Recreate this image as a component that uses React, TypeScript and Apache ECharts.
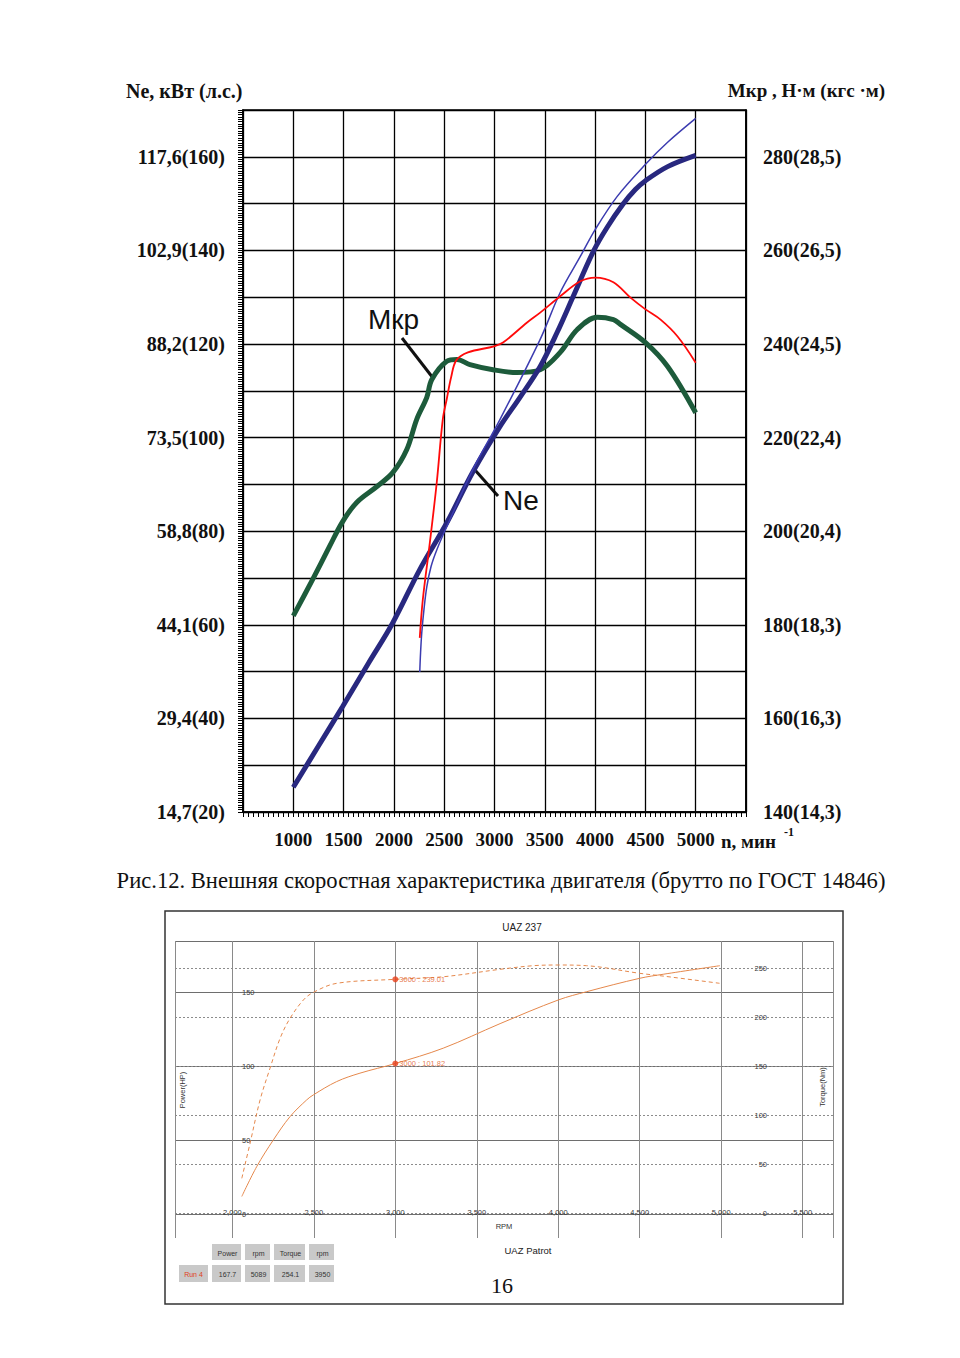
import React, { useEffect, useRef } from 'react';
import * as echarts from 'echarts';

// ---------- Top chart (external speed characteristic) ----------
const rpmTicksTop = [1000, 1500, 2000, 2500, 3000, 3500, 4000, 4500, 5000];
const powerHpTicks = [20, 40, 60, 80, 100, 120, 140, 160];
const powerKwLabels = ['14,7', '29,4', '44,1', '58,8', '73,5', '88,2', '102,9', '117,6'];
const torqueNmTicks = [140, 160, 180, 200, 220, 240, 260, 280];
const torqueKgfLabels = ['14,3', '16,3', '18,3', '20,4', '22,4', '24,5', '26,5', '28,5'];

// Ne (hp) – thick blue
const neThick: number[][] = [
  [1000, 25.3], [1250, 34.1], [1489, 42.5], [1750, 51.9], [1988, 60.4], [2257, 71.8],
  [2526, 81.8], [2786, 92.7], [3055, 102.4], [3250, 108.5], [3454, 115.2], [3623, 122.5],
  [3783, 130.2], [3983, 139.8], [4122, 145.0], [4282, 150.0], [4400, 153.0], [4501, 154.9],
  [4721, 157.9], [5000, 160.3],
];
// Ne (hp) – thin blue (dyno)
const neThin: number[][] = [
  [2257, 49.9], [2265, 54.0], [2277, 58.3], [2300, 63.5], [2327, 68.1], [2370, 72.5],
  [2426, 76.0], [2526, 81.0], [2786, 93.2], [3055, 103.9], [3454, 121.0], [3653, 131.0],
  [3853, 138.7], [4002, 144.5], [4222, 151.6], [4501, 158.4], [4721, 163.1], [5000, 168.2],
];
// Mkr (N·m) – red (dyno)
const mkrRed: number[][] = [
  [2257, 177.2], [2287, 185.3], [2357, 197.5], [2426, 210.4], [2486, 223.9], [2526, 228.3],
  [2570, 233.0], [2620, 236.5], [2736, 238.2], [2995, 239.5], [3085, 240.3], [3324, 244.6],
  [3454, 246.7], [3653, 250.2], [3853, 253.4], [4002, 254.2], [4182, 253.2], [4352, 249.9],
  [4501, 247.4], [4651, 245.2], [4820, 241.6], [5000, 236.0],
];
// Mkr (N·m) – thick green
const mkrGreen: number[][] = [
  [1000, 181.9], [1190, 189.6], [1359, 196.7], [1489, 202.0], [1628, 206.1], [1828, 209.5],
  [1988, 212.5], [2127, 217.4], [2227, 223.9], [2327, 228.6], [2377, 232.4], [2526, 236.3],
  [2626, 236.7], [2756, 235.6], [2985, 234.5], [3224, 233.9], [3454, 234.5], [3653, 238.2],
  [3823, 243.1], [4022, 245.7], [4182, 245.2], [4252, 244.2], [4501, 240.3], [4721, 235.2],
  [5000, 225.3],
];

// ---------- Bottom chart (UAZ 237 dyno) ----------
const dynoPower: number[][] = [
  [2058, 11.9], [2150, 32.2], [2252, 50.2], [2354, 65.9], [2456, 77.2], [2497, 80.6],
  [2640, 89.6], [2783, 95.3], [3000, 101.82], [3294, 112.2], [3643, 128.8], [4000, 144.8],
  [4174, 150.4], [4501, 159.5], [4644, 162.2], [4992, 168.0],
];
const dynoTorque: number[][] = [
  [2058, 35.9], [2109, 72.0], [2170, 115.8], [2231, 148.2], [2293, 178.8], [2354, 199.2],
  [2436, 217.9], [2497, 225.7], [2640, 234.9], [3000, 239.01], [3294, 241.6], [3643, 249.2],
  [3847, 252.9], [4000, 253.6], [4174, 252.9], [4501, 245.1], [4644, 242.3], [4992, 234.9],
];
const markerPower = [3000, 101.82];
const markerTorque = [3000, 239.01];
const tableHeaders = ['Power', 'rpm', 'Torque', 'rpm'];
const runLabel = 'Run 4';
const runValues = ['167.7', '5089', '254.1', '3950'];

const SERIF = '"Liberation Serif", "Times New Roman", serif';
const SANS = '"Liberation Sans", Arial, sans-serif';
const ORANGE = '#e5884c';

function near(v: number, arr: number[]) {
  const r = Math.round(v * 1000) / 1000;
  return arr.indexOf(r);
}

function buildOption() {
  const tableCols = [
    { x: 212, w: 29 },
    { x: 245, w: 25 },
    { x: 274, w: 31 },
    { x: 309, w: 25 },
  ];
  const graphics: any[] = [];
  // top chart titles
  graphics.push(
    { type: 'text', x: 126, y: 91, style: { text: 'Ne, кВт (л.с.)', font: `bold 20px ${SERIF}`, fill: '#111', align: 'left', verticalAlign: 'middle' } },
    { type: 'text', x: 885, y: 90, style: { text: 'Мкр , Н·м (кгс ·м)', font: `bold 19px ${SERIF}`, fill: '#111', align: 'right', verticalAlign: 'middle' } },
    { type: 'text', x: 721, y: 841, style: { text: 'n, мин', font: `bold 19px ${SERIF}`, fill: '#111', align: 'left', verticalAlign: 'middle' } },
    { type: 'text', x: 784, y: 832, style: { text: '-1', font: `bold 12px ${SERIF}`, fill: '#111', align: 'left', verticalAlign: 'middle' } },
    { type: 'text', x: 501, y: 880, style: { text: 'Рис.12. Внешняя скоростная характеристика двигателя (брутто по ГОСТ 14846)', font: `22.6px ${SERIF}`, fill: '#111', align: 'center', verticalAlign: 'middle' } },
    { type: 'text', x: 368, y: 319, style: { text: 'Мкр', font: `28px ${SANS}`, fill: '#111', align: 'left', verticalAlign: 'middle' } },
    { type: 'line', shape: { x1: 402, y1: 338, x2: 433, y2: 378 }, style: { stroke: '#111', lineWidth: 3 } },
    { type: 'text', x: 503, y: 500, style: { text: 'Ne', font: `28px ${SANS}`, fill: '#111', align: 'left', verticalAlign: 'middle' } },
    { type: 'line', shape: { x1: 475, y1: 470, x2: 498, y2: 496 }, style: { stroke: '#111', lineWidth: 3 } },
  );
  // bottom chart frame & texts
  graphics.push(
    { type: 'rect', shape: { x: 165, y: 911, width: 678, height: 393 }, style: { fill: 'none', stroke: '#333', lineWidth: 1.5 } },
    { type: 'text', x: 522, y: 927, style: { text: 'UAZ 237', font: `10px ${SANS}`, fill: '#222', align: 'center', verticalAlign: 'middle' } },
    { type: 'text', x: 504, y: 1226, style: { text: 'RPM', font: `7.5px ${SANS}`, fill: '#333', align: 'center', verticalAlign: 'middle' } },
    { type: 'text', x: 182, y: 1090, rotation: Math.PI / 2, style: { text: 'Power(HP)', font: `7.5px ${SANS}`, fill: '#333', align: 'center', verticalAlign: 'middle' } },
    { type: 'text', x: 822, y: 1087, rotation: Math.PI / 2, style: { text: 'Torque(Nm)', font: `7.5px ${SANS}`, fill: '#333', align: 'center', verticalAlign: 'middle' } },
    { type: 'text', x: 528, y: 1250, style: { text: 'UAZ Patrot', font: `9.5px ${SANS}`, fill: '#222', align: 'center', verticalAlign: 'middle' } },
    { type: 'text', x: 502, y: 1285, style: { text: '16', font: `22px ${SERIF}`, fill: '#111', align: 'center', verticalAlign: 'middle' } },
    { type: 'rect', shape: { x: 179, y: 1265, width: 29, height: 17 }, style: { fill: '#c9c9c9' } },
    { type: 'text', x: 193.5, y: 1274, style: { text: runLabel, font: `7px ${SANS}`, fill: '#e0401a', align: 'center', verticalAlign: 'middle' } },
  );
  tableCols.forEach((c, i) => {
    graphics.push(
      { type: 'rect', shape: { x: c.x, y: 1244, width: c.w, height: 16 }, style: { fill: '#c9c9c9' } },
      { type: 'text', x: c.x + c.w / 2 + 1, y: 1253, style: { text: tableHeaders[i], font: `7px ${SANS}`, fill: '#333', align: 'center', verticalAlign: 'middle' } },
      { type: 'rect', shape: { x: c.x, y: 1265, width: c.w, height: 17 }, style: { fill: '#c9c9c9' } },
      { type: 'text', x: c.x + c.w / 2 + 1, y: 1274, style: { text: runValues[i], font: `7px ${SANS}`, fill: '#333', align: 'center', verticalAlign: 'middle' } },
    );
  });

  const smallLabel = { fontFamily: SANS, fontSize: 7.5, color: '#3a3a3a' };

  return {
    animation: false,
    backgroundColor: '#fff',
    grid: [
      { left: 243, top: 110, width: 503, height: 702, show: true, borderColor: '#000', borderWidth: 1.6, backgroundColor: '#fff', containLabel: false, outerBoundsMode: 'none' },
      { left: 175, top: 941, width: 658, height: 297, show: false, containLabel: false, outerBoundsMode: 'none' },
    ],
    xAxis: [
      {
        type: 'value', gridIndex: 0, min: 500, max: 5500, interval: 500,
        axisLine: { show: true, lineStyle: { color: '#000', width: 1.6 } },
        axisTick: { show: true, length: 5, lineStyle: { color: '#000', width: 1 } },
        minorTick: { show: true, splitNumber: 10, length: 5, lineStyle: { color: '#000', width: 1 } },
        splitLine: { show: true, lineStyle: { color: '#000', width: 1.3 } },
        axisLabel: {
          show: true, margin: 18, hideOverlap: false, showMinLabel: true, showMaxLabel: true,
          fontFamily: SERIF, fontWeight: 'bold', fontSize: 19, color: '#111',
          formatter: (v: number) => (near(v, rpmTicksTop) >= 0 ? String(Math.round(v)) : ''),
        },
      },
      {
        type: 'value', gridIndex: 1, min: 1648, max: 5686, minInterval: 500, maxInterval: 500,
        axisLine: { show: false }, axisTick: { show: false },
        splitLine: { show: true, lineStyle: { color: '#8a8a8a', width: 1 } },
        axisLabel: {
          show: true, inside: true, margin: 26, verticalAlign: 'middle', hideOverlap: false, ...smallLabel,
          formatter: (v: number) => {
            const r = Math.round(v);
            return Math.abs(v - r) < 1e-6 && r % 500 === 0 ? r.toLocaleString('en-US') : '';
          },
        },
      },
    ],
    yAxis: [
      {
        type: 'value', gridIndex: 0, position: 'left', min: 20, max: 170, interval: 10,
        axisLine: { show: true, lineStyle: { color: '#000', width: 1.6 } },
        axisTick: { show: true, length: 5, lineStyle: { color: '#000', width: 1 } },
        minorTick: { show: true, splitNumber: 20, length: 5, lineStyle: { color: '#000', width: 1 } },
        splitLine: { show: true, lineStyle: { color: '#000', width: 1.3 } },
        axisLabel: {
          show: true, margin: 18, hideOverlap: false, showMinLabel: true, showMaxLabel: true,
          fontFamily: SERIF, fontWeight: 'bold', fontSize: 20, color: '#111',
          formatter: (v: number) => {
            const i = near(v, powerHpTicks);
            return i >= 0 ? `${powerKwLabels[i]}(${powerHpTicks[i]})` : '';
          },
        },
      },
      {
        type: 'value', gridIndex: 0, position: 'right', min: 140, max: 290, interval: 10,
        axisLine: { show: true, lineStyle: { color: '#000', width: 1.6 } },
        axisTick: { show: false }, splitLine: { show: false },
        axisLabel: {
          show: true, margin: 17, hideOverlap: false, showMinLabel: true, showMaxLabel: true,
          fontFamily: SERIF, fontWeight: 'bold', fontSize: 20, color: '#111',
          formatter: (v: number) => {
            const i = near(v, torqueNmTicks);
            return i >= 0 ? `${torqueNmTicks[i]}(${torqueKgfLabels[i]})` : '';
          },
        },
      },
      {
        type: 'value', gridIndex: 1, position: 'left', min: -16.2, max: 184.7, minInterval: 50, maxInterval: 50,
        axisLine: { show: false }, axisTick: { show: false },
        splitLine: { show: true, showMinLine: false, showMaxLine: true, lineStyle: { color: '#6e6e6e', width: 1 } },
        axisLabel: {
          show: true, inside: true, margin: 67, hideOverlap: false, ...smallLabel,
          formatter: (v: number) => {
            const r = Math.round(v);
            return Math.abs(v - r) < 1e-6 && r % 50 === 0 ? String(r) : '';
          },
        },
      },
      {
        type: 'value', gridIndex: 1, position: 'right', min: -25, max: 278.1, minInterval: 50, maxInterval: 50,
        axisLine: { show: false }, axisTick: { show: false },
        splitLine: { show: true, showMinLine: false, showMaxLine: false, lineStyle: { color: '#8c8c8c', width: 1, type: [2, 2] } },
        axisLabel: {
          show: true, inside: true, margin: 66, hideOverlap: false, ...smallLabel,
          formatter: (v: number) => {
            const r = Math.round(v);
            return Math.abs(v - r) < 1e-6 && r % 50 === 0 ? String(r) : '';
          },
        },
      },
    ],
    series: [
      { type: 'line', name: 'Mkr', xAxisIndex: 0, yAxisIndex: 1, data: mkrGreen, smooth: 0.35, showSymbol: false, lineStyle: { color: '#1d5b3b', width: 5 }, z: 3 },
      { type: 'line', name: 'Ne', xAxisIndex: 0, yAxisIndex: 0, data: neThick, smooth: 0.35, showSymbol: false, lineStyle: { color: '#28287f', width: 5 }, z: 4 },
      { type: 'line', name: 'Ne dyno', xAxisIndex: 0, yAxisIndex: 0, data: neThin, smooth: 0.35, showSymbol: false, lineStyle: { color: '#3c3cb0', width: 1.5 }, z: 5 },
      { type: 'line', name: 'Mkr dyno', xAxisIndex: 0, yAxisIndex: 1, data: mkrRed, smooth: 0.35, showSymbol: false, lineStyle: { color: '#ff0a0a', width: 1.8 }, z: 5 },
      { type: 'line', name: 'Power', xAxisIndex: 1, yAxisIndex: 2, data: dynoPower, smooth: 0.35, showSymbol: false, lineStyle: { color: ORANGE, width: 1 } },
      { type: 'line', name: 'Torque', xAxisIndex: 1, yAxisIndex: 3, data: dynoTorque, smooth: 0.35, showSymbol: false, lineStyle: { color: ORANGE, width: 1, type: [4, 3] } },
      {
        type: 'scatter', xAxisIndex: 1, yAxisIndex: 2, data: [markerPower], symbolSize: 6, itemStyle: { color: '#e8401a' },
        label: { show: true, position: 'right', distance: 1, fontFamily: SANS, fontSize: 7.5, color: '#e0581a', formatter: () => `${markerPower[0]} : ${markerPower[1].toFixed(2)}` }, z: 6,
      },
      {
        type: 'scatter', xAxisIndex: 1, yAxisIndex: 3, data: [markerTorque], symbolSize: 6, itemStyle: { color: '#e8401a' },
        label: { show: true, position: 'right', distance: 1, fontFamily: SANS, fontSize: 7.5, color: '#e0581a', formatter: () => `${markerTorque[0]} : ${markerTorque[1].toFixed(2)}` }, z: 6,
      },
    ],
    graphic: { elements: graphics },
  };
}

export default function App() {
  const ref = useRef<HTMLDivElement>(null);
  useEffect(() => {
    const el = ref.current;
    if (!el) return;
    const chart = echarts.init(el, null, { renderer: 'svg', width: 960, height: 1358 });
    chart.setOption(buildOption() as any);
    return () => chart.dispose();
  }, []);
  return (
    <div
      ref={ref}
      style={{ position: 'absolute', left: 0, top: 0, width: 960, height: 1358, background: '#fff' }}
    />
  );
}
